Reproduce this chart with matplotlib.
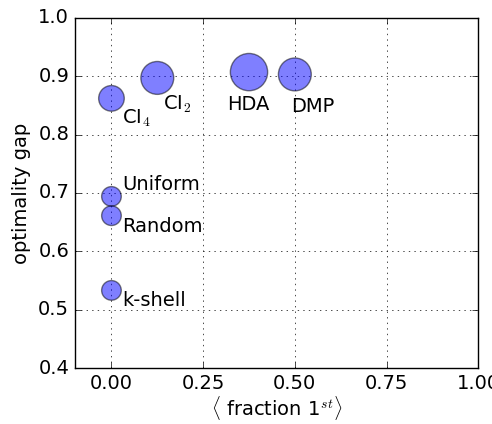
import matplotlib
matplotlib.use("Agg")
import matplotlib.pyplot as plt

plt.style.use("classic")
plt.rcParams["mathtext.fontset"] = "cm"
plt.rcParams["font.size"] = 14

# methods, their position and marker size
names = [r"CI$_4$", r"CI$_2$", "HDA", "DMP", "Uniform", "Random", "k-shell"]
frac_first = [0.0, 0.125, 0.375, 0.5, 0.0, 0.0, 0.0]
gap = [0.862, 0.897, 0.907, 0.903, 0.694, 0.661, 0.533]
sizes = [340, 560, 720, 560, 200, 200, 200]
# label offsets (in data units)
dx = [0.03, 0.015, -0.06, -0.01, 0.03, 0.03, 0.03]
dy = [-0.034, -0.045, -0.055, -0.055, 0.02, -0.018, -0.017]

fig = plt.figure(figsize=(4.92, 4.24), dpi=100)
ax = fig.add_axes([0.152, 0.132, 0.82, 0.826])
ax.scatter(frac_first, gap, s=sizes, c="b", alpha=0.5, edgecolors="k", linewidths=1.0, zorder=3)
for i in range(len(names)):
	ax.text(frac_first[i] + dx[i], gap[i] + dy[i], names[i], fontsize=14, va="center", ha="left")

ax.set_xlim(-0.1, 1.0)
ax.set_ylim(0.4, 1.0)
ax.set_xticks([0.0, 0.25, 0.5, 0.75, 1.0])
ax.set_xticklabels(["0.00", "0.25", "0.50", "0.75", "1.00"])
ax.tick_params(labelsize=14)
ax.grid(True)
ax.set_xlabel(r"$\langle$ fraction 1$^{st}\rangle$", fontsize=14, labelpad=1)
ax.set_ylabel("optimality gap", fontsize=14)
fig.savefig("out.png", facecolor="white")
